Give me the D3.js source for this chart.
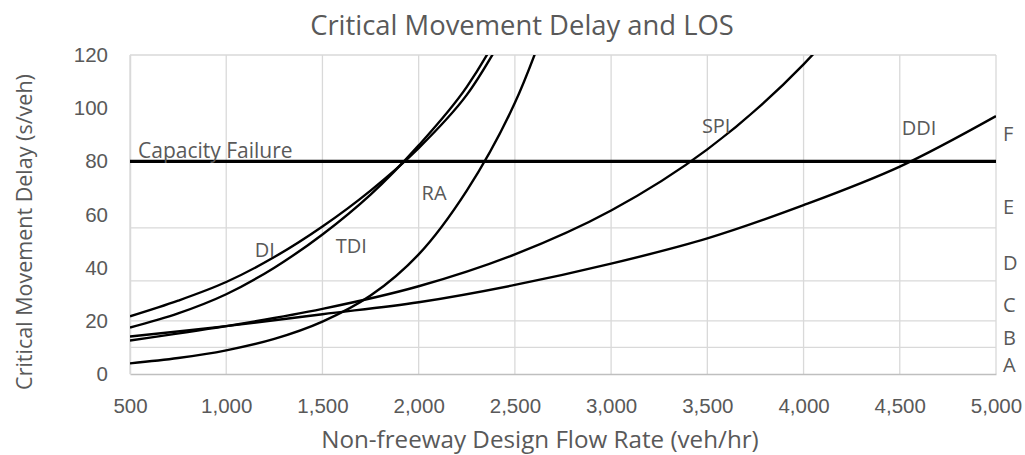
<!DOCTYPE html>
<html>
<head>
<script src="https://d3js.org/d3.v7.min.js"></script>
<style>
  body { margin: 0; background: #fff; }
  svg { display: block; font-family: "Open Sans", sans-serif; }
  .grid line { stroke: #d9d9d9; stroke-width: 1.3px; }
  .curve { fill: none; stroke: #000; stroke-width: 2.4px; }
  .lbl { fill: #595959; }
</style>
</head>
<body>
<div id="container"></div>
<script>
// flow rates (veh/hr) for the steep curves and the flat curves
var flowSteep = [500, 750, 1000, 1250, 1500, 1750, 2000, 2250, 2500, 2750];
var flowFlat = [500, 1000, 1500, 2000, 2500, 3000, 3500, 4000, 4500, 5000];

// delay (s/veh)
var delayDI = [21.7, 27.6, 34.6, 44, 55.5, 69, 85, 105, 135, 170];
var delayTDI = [17.5, 22.8, 30, 40, 52.5, 67.5, 86, 108, 140, 185];
var delayRA = [4, 6, 8.9, 13.2, 19.7, 29.5, 45, 69, 102, 150];
var delaySPI = [12.6, 18, 24.5, 33, 45, 61.5, 84.5, 116.5, 160, 210];
var delayDDI = [14.1, 18, 22.5, 27, 33.5, 41.5, 51, 63.5, 78, 97];

var xTicks = [500, 1000, 1500, 2000, 2500, 3000, 3500, 4000, 4500, 5000];
var yTicks = [0, 20, 40, 60, 80, 100, 120];
var losBreaks = [10, 20, 35, 55, 80, 120];
var losNames = ["A", "B", "C", "D", "E", "F"];
var losLabelY = [3.5, 13.5, 26, 42, 63, 90.5];
var capacity = 80;

var series = [
  { name: "DI", flow: flowSteep, delay: delayDI, lx: 1200, ly: 46.8 },
  { name: "TDI", flow: flowSteep, delay: delayTDI, lx: 1650, ly: 48.3 },
  { name: "RA", flow: flowSteep, delay: delayRA, lx: 2080, ly: 68.2 },
  { name: "SPI", flow: flowFlat, delay: delaySPI, lx: 3546, ly: 93.4 },
  { name: "DDI", flow: flowFlat, delay: delayDDI, lx: 4600, ly: 92.7 }
];

var W = 1025, H = 455;
var margin = { top: 55, right: 29, bottom: 81, left: 130 };
var width = W - margin.left - margin.right,
    height = H - margin.top - margin.bottom;

var x = d3.scaleLinear().domain([500, 5000]).range([0, width]);
var y = d3.scaleLinear().domain([0, 120]).range([height, 0]);

var svg = d3.select("#container").append("svg")
  .attr("width", W).attr("height", H);

svg.append("defs").append("clipPath").attr("id", "plotclip")
  .append("rect").attr("width", width).attr("height", height);

var g = svg.append("g")
  .attr("transform", "translate(" + margin.left + "," + margin.top + ")");

// vertical gridlines
g.append("g").attr("class", "grid")
  .selectAll("line").data(xTicks).enter().append("line")
  .attr("x1", function(d) { return x(d); }).attr("x2", function(d) { return x(d); })
  .attr("y1", 0).attr("y2", height);

// horizontal gridlines at LOS thresholds
g.append("g").attr("class", "grid")
  .selectAll("line").data(losBreaks).enter().append("line")
  .attr("x1", 0).attr("x2", width)
  .attr("y1", function(d) { return y(d); }).attr("y2", function(d) { return y(d); });

// axes (no tick marks, gray domain line)
var xAxis = g.append("g")
  .attr("transform", "translate(0," + height + ")")
  .call(d3.axisBottom(x).tickValues(xTicks).tickFormat(d3.format(",")).tickSize(0).tickPadding(24));
var yAxis = g.append("g")
  .call(d3.axisLeft(y).tickValues(yTicks).tickSize(0).tickPadding(22));
[xAxis, yAxis].forEach(function(a) {
  a.select(".domain").attr("stroke", "#bfbfbf").attr("stroke-width", 1.5);
  a.selectAll("text").attr("fill", "#595959").style("font-size", "20.5px");
});
xAxis.selectAll("text").attr("dy", "0.71em");
yAxis.select(".domain").attr("stroke", "#d9d9d9");

// capacity failure line
g.append("line")
  .attr("x1", 0).attr("x2", width)
  .attr("y1", y(capacity)).attr("y2", y(capacity))
  .attr("stroke", "#000").attr("stroke-width", 3.4);
g.append("text").attr("class", "lbl")
  .attr("x", 8).attr("y", y(capacity) - 3)
  .style("font-size", "21px")
  .text("Capacity Failure");

// curves
var line = d3.line()
  .x(function(d) { return x(d[0]); })
  .y(function(d) { return y(d[1]); })
  .curve(d3.curveCatmullRom.alpha(0.5));

var curves = g.append("g").attr("clip-path", "url(#plotclip)");
series.forEach(function(s) {
  curves.append("path")
    .datum(d3.zip(s.flow, s.delay))
    .attr("class", "curve")
    .attr("d", line);
});

// curve labels
g.selectAll(".clabel").data(series).enter().append("text")
  .attr("class", "lbl")
  .attr("x", function(d) { return x(d.lx); })
  .attr("y", function(d) { return y(d.ly); })
  .attr("dy", "0.36em")
  .attr("text-anchor", "middle")
  .style("font-size", "20px")
  .text(function(d) { return d.name; });

// LOS letters on the right
g.selectAll(".los").data(losNames).enter().append("text")
  .attr("class", "lbl")
  .attr("x", width + 7)
  .attr("y", function(d, i) { return y(losLabelY[i]); })
  .attr("dy", "0.36em")
  .style("font-size", "20px")
  .text(function(d) { return d; });

// titles
svg.append("text").attr("class", "lbl")
  .attr("x", 522).attr("y", 35)
  .attr("text-anchor", "middle")
  .style("font-size", "27.4px")
  .text("Critical Movement Delay and LOS");

svg.append("text").attr("class", "lbl")
  .attr("x", 540).attr("y", 448)
  .attr("text-anchor", "middle")
  .style("font-size", "24.2px")
  .text("Non-freeway Design Flow Rate (veh/hr)");

svg.append("text").attr("class", "lbl")
  .attr("transform", "translate(32," + 232 + ") rotate(-90)")
  .attr("text-anchor", "middle")
  .style("font-size", "21.5px")
  .text("Critical Movement Delay (s/veh)");
</script>
</body>
</html>
